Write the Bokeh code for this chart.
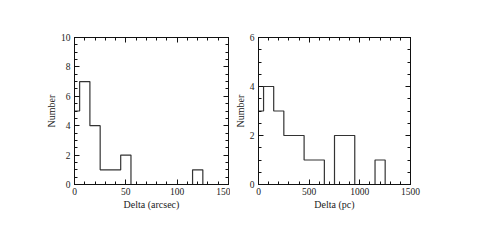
from bokeh.plotting import figure
from bokeh.layouts import row
from bokeh.models import Range1d, LinearAxis, SingleIntervalTicker, CustomLabelingPolicy
from bokeh.embed import file_html
from bokeh.resources import INLINE

# Left panel: histogram of Delta (arcsec), bin centres and counts
arcsec_centers = [0, 10, 20, 30, 40, 50, 60, 70, 80, 90, 100, 110, 120, 130, 140, 150]
arcsec_counts = [5, 7, 4, 1, 1, 2, 0, 0, 0, 0, 0, 0, 1, 0, 0, 0]

# Right panel: histogram of Delta (pc)
pc_centers = [0, 100, 200, 300, 400, 500, 600, 700, 800, 900, 1000, 1100, 1200, 1300, 1400, 1500]
pc_counts = [3, 4, 3, 2, 2, 1, 1, 0, 2, 2, 0, 0, 1, 0, 0, 0]

FONT = "Liberation Serif"
TXT = "#222222"


def style_axis(ax, x_int, y_int, is_x, labels=True):
    ax.ticker = SingleIntervalTicker(interval=x_int if is_x else y_int,
                                     num_minor_ticks=5 if is_x else 4)
    ax.major_tick_in = 5
    ax.major_tick_out = 0
    ax.minor_tick_in = 3
    ax.minor_tick_out = 0
    ax.axis_line_color = "#111111"
    ax.major_tick_line_color = "#111111"
    ax.minor_tick_line_color = "#111111"
    ax.major_label_text_font = FONT
    ax.major_label_text_color = TXT
    ax.axis_label_text_font = FONT
    ax.axis_label_text_font_style = "normal"
    ax.axis_label_text_color = TXT
    if labels:
        ax.major_label_text_font_size = "9.5px"
        ax.axis_label_text_font_size = "10px"
        ax.major_label_standoff = 3 if is_x else 4
        ax.axis_label_standoff = 1
    else:
        ax.major_label_standoff = 0
        ax.major_label_text_font_size = "0px"
        ax.axis_label = None
        ax.major_label_policy = CustomLabelingPolicy(
            code="for (const i of Array.from(indices)) { indices.unset(i) }; return indices")


def make_panel(centers, counts, xmax, ymax, x_int, y_int, xlabel,
               border_left, frame_w, border_right):
    p = figure(output_backend="svg", toolbar_location=None,
               frame_width=frame_w, frame_height=147,
               x_range=Range1d(0, xmax), y_range=Range1d(0, ymax),
               min_border_left=border_left, min_border_right=border_right,
               min_border_top=37, min_border_bottom=40,
               background_fill_color="white", border_fill_color="white")
    p.xgrid.visible = False
    p.ygrid.visible = False
    p.outline_line_color = "#111111"
    p.xaxis.axis_label = xlabel
    p.yaxis.axis_label = "Number"
    style_axis(p.xaxis[0], x_int, y_int, True)
    style_axis(p.yaxis[0], x_int, y_int, False)
    top = LinearAxis()
    right = LinearAxis()
    style_axis(top, x_int, y_int, True, labels=False)
    style_axis(right, x_int, y_int, False, labels=False)
    p.add_layout(top, "above")
    p.add_layout(right, "right")
    p.step(x=centers, y=counts, mode="center", line_color="#333333", line_width=1.2)
    return p


p1 = make_panel(arcsec_centers, arcsec_counts, 150, 10, 50, 2, "Delta (arcsec)", 74, 154, 2)
p2 = make_panel(pc_centers, pc_counts, 1500, 6, 500, 2, "Delta (pc)", 28, 152, 20)

layout = row(p1, p2)
open("out.html", "w").write(file_html(layout, INLINE))
